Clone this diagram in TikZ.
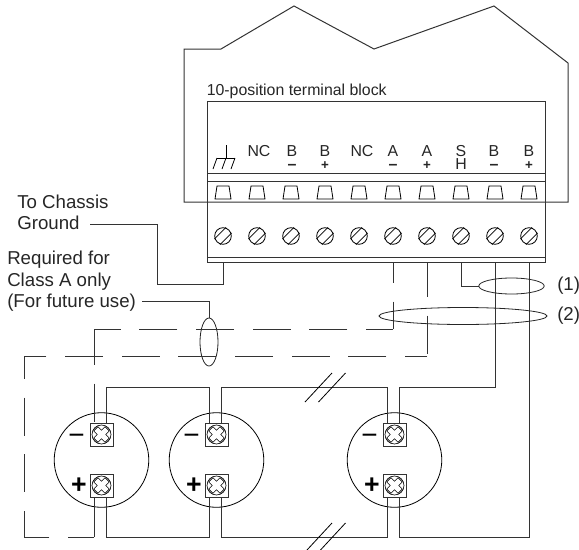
\documentclass[tikz,border=0pt]{standalone}
\usepackage{fontspec}
\setmainfont{Liberation Sans}
\usetikzlibrary{calc}
\tikzset{
    wire/.style={line width=0.75pt,draw=black!80},
    thin wire/.style={line width=0.6pt,draw=black!85},
    dash wire/.style={wire,dash pattern=on 28.5pt off 14pt,dash phase=#1},
    lbl/.style={inner sep=0pt,font=\fontsize{11.9}{14}\selectfont,text=black!85},
    pinlbl/.style={inner sep=0pt,anchor=north,align=center,font=\fontsize{11.9}{10}\selectfont,text=black!85},
    note/.style={inner sep=0pt,font=\fontsize{14}{16}\selectfont,text=black!85}
}
\newcommand{\termscrew}[2]{%
    \draw[line width=0.6pt] (#1,#2) circle (8.3);
    \foreach \s in {-2.8,2.8} {
        \draw[line width=0.6pt] ($(#1,#2)+(-5.8+\s,5.8+\s)$) -- ($(#1,#2)+(5.8+\s,-5.8+\s)$);
    }
}
\newcommand{\neglbl}{{\fontsize{12}{10}\selectfont\bfseries –}}
\newcommand{\poslbl}{{\fontsize{10}{10}\selectfont\bfseries +}}
\begin{document}
\begin{tikzpicture}[x=0.75pt,y=-0.75pt]
    \useasboundingbox (0,0) rectangle (579,550);
    % housing
    \draw[wire] (184,202) -- (184,49) -- (221,49) -- (294,6) -- (374,49) -- (494,6) -- (568,63) -- (568,202) -- cycle;
    \node[lbl,anchor=west] (title) at (206.5,91) {10-position terminal block};
    % terminal block
    \draw[wire] (207,101) rectangle (545,262);
    \draw[wire] (207,173) -- (545,173);
    \draw[wire] (207,181) -- (545,181);
    \draw[wire] (207,257) -- (545,257);
    \foreach \i in {0,...,9} {
        \pgfmathsetmacro{\x}{223+34*\i}
        \draw[line width=0.6pt] (\x-8,199) -- (\x-6,186) -- (\x+6,186) -- (\x+8,199) -- cycle;
        \termscrew{\x}{236}
        \coordinate (pin\i) at (\x,262);
    }
    % labels
    \foreach \x/\t in {259/NC,362/NC} {
        \node[pinlbl] (top\x) at (\x,145) {\t};
    }
    \foreach \x/\t in {292/B,393/A,494/B} {
        \node[pinlbl] (top\x) at (\x,145) {\t\\\neglbl};
    }
    \foreach \x/\t in {325/B,427/A,529/B} {
        \node[pinlbl] (top\x) at (\x,145) {\t\\\poslbl};
    }
    \node[pinlbl] (top461) at (461,145) {S\\H};
    % ground symbol
    \draw[line width=0.6pt] (226,145) -- (226,158) (217,158) -- (235,158);
    \foreach \x in {217,226,235} {
        \draw[line width=0.6pt] (\x,158) -- (\x-4,169);
    }
    % detectors
    \foreach \n/\x in {a/101.5,b/216.5,c/394.5} {
        \draw[line width=0.6pt] (\x,460) circle (47.3);
        \foreach \m/\y in {up/434.5,lo/485.5} {
            \node[draw=black!80,fill=white,line width=0.7pt,minimum size=17.25pt,inner sep=0pt] (\n\m) at (\x,\y) {};
            \draw[line width=0.5pt] (\x,\y) circle (9.5);
            \draw[line width=0.5pt,fill=white,rotate around={45:(\x,\y)}] (\x-3,\y-3) -- (\x-3,\y-8) -- (\x+3,\y-8) -- (\x+3,\y-3) -- (\x+8,\y-3) -- (\x+8,\y+3) -- (\x+3,\y+3) -- (\x+3,\y+8) -- (\x-3,\y+8) -- (\x-3,\y+3) -- (\x-8,\y+3) -- (\x-8,\y-3) -- cycle;
        }
        \node[inner sep=0pt,font=\fontsize{21}{21}\selectfont] (minus\n) at (\x-25,439.5) {−};
        \node[inner sep=0pt,font=\fontsize{20}{20}\selectfont\bfseries] (plus\n) at (\x-22.5,485.5) {+};
    }
    % solid wiring
    \draw[wire] (106,423) |- (209,387) -- (209,423);
    \draw[wire] (221,423) |- (387,387) -- (387,423);
    \draw[wire] (399,423) |- (495,387) -- (pin8);
    \draw[wire] (106,497) |- (209,537) -- (209,497);
    \draw[wire] (221,497) |- (387,537) -- (387,497);
    \draw[wire] (399,497) |- (529,537) -- (pin9);
    \draw[wire] (94,497) -- (94,537);
    \draw[wire] (pin7) -- (461,286) -- (479,286);
    % chassis lead
    \node[note,anchor=west] (chassis) at (17,202) {To Chassis};
    \node[note,anchor=west] (ground) at (17,223) {Ground};
    \draw[wire] (pin0) -- (223,284) -- (157,284) -- (157,224) -- (90,224);
    % class A note
    \node[note,anchor=west] (req) at (7,260) {Required for};
    \node[note,anchor=west] (cls) at (7,282) {Class A only};
    \node[note,anchor=west] (fut) at (7,303) {(For future use)};
    \draw[wire] (142,301) -- (209,301) -- (209,318);
    \draw[thin wire] (209,342) ellipse (9 and 24);
    % class A dashed pairs
    \draw[dash wire=12.75pt] (pin5) -- (393,329);
    \draw[dash wire=8.25pt] (393,329) -- (94,329);
    \draw[dash wire=1.5pt] (94,329) -- (94,423);
    \draw[dash wire=2.25pt] (pin6) -- (427,356);
    \draw[dash wire=12pt] (427,356) -- (24,356);
    \draw[dash wire=11.25pt] (24,356) -- (24,537);
    \draw[dash wire=9pt] (94,537) -- (24,537);
    % cable rings
    \draw[thin wire] (511.5,286) ellipse (32.7 and 8);
    \draw[thin wire] (463,316) ellipse (84 and 8.5);
    \node[note,anchor=west] (one) at (557,286) {(1)};
    \node[note,anchor=west] (two) at (557,316) {(2)};
    % breaks
    \foreach \x in {0,13.5} {
        \draw[line width=0.6pt] (305+\x,402) -- (332+\x,373);
        \draw[line width=0.6pt] (307+\x,550) -- (332+\x,523);
    }
\end{tikzpicture}
\end{document}
